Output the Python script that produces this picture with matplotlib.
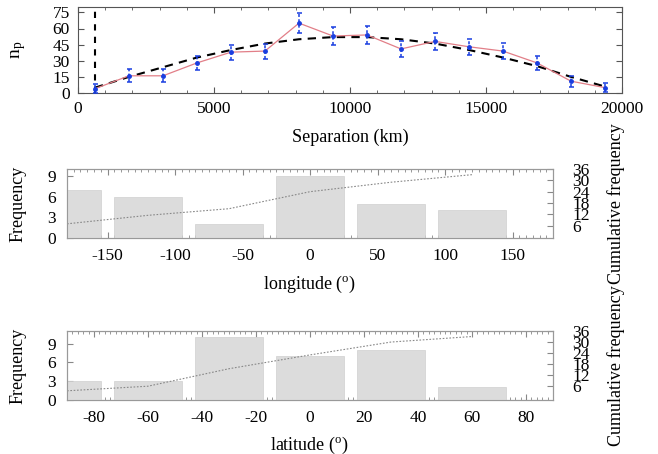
import matplotlib
matplotlib.use("Agg")
import matplotlib.pyplot as plt
from matplotlib.ticker import MultipleLocator

plt.rcParams['font.family'] = ['Liberation Serif', 'DejaVu Serif']
plt.rcParams['mathtext.fontset'] = 'stix'
plt.rcParams['axes.unicode_minus'] = False

# top panel: pair counts vs separation
sep_km = [625, 1875, 3125, 4375, 5625, 6875, 8125, 9375, 10625, 11875,
          13125, 14375, 15625, 16875, 18125, 19375]
n_p = [4, 16, 16, 28, 38, 39, 65, 53, 54, 41, 48, 43, 39, 28, 11, 5]
n_p_err = [4, 6, 6, 6.5, 7, 7, 9.5, 8, 8, 7.5, 8, 7.5, 7.5, 6.5, 5, 4]
n_fit = [5, 15, 24, 33, 40, 46, 50, 52, 52, 50, 46, 40, 33, 25, 15, 6]
min_sep = 625

# middle panel: longitude histogram
lon_centres = [-180, -120, -60, 0, 60, 120]
lon_counts = [7, 6, 2, 9, 5, 4]
lon_cum = [7, 11.5, 15, 24, 29, 33]

# bottom panel: latitude histogram
lat_centres = [-90, -60, -30, 0, 30, 60]
lat_counts = [3, 3, 10, 7, 8, 2]
lat_cum = [3.5, 6, 15.5, 23, 30, 33]

cum_ticks = [6, 12, 18, 24, 30, 36]

W, H = 658, 454
fig = plt.figure(figsize=(W / 100, H / 100), dpi=100)


def box(l, t, r, b):
    return [l / W, 1 - b / H, (r - l) / W, (b - t) / H]


# ---- top panel
ax = fig.add_axes(box(78, 7, 622, 93))
ax.plot(sep_km, n_fit, color='black', lw=1.5, ls=(0, (4, 3)), zorder=2)
ax.axvline(min_sep, color='black', lw=1.5, ls=(0, (3, 3)), zorder=2)
ax.plot(sep_km, n_p, color='#e27f88', lw=0.9, zorder=3)
eb = ax.errorbar(sep_km, n_p, yerr=n_p_err, fmt='o', ms=2.5, color='#1a3ee0',
                 elinewidth=1.1, capsize=1.8, capthick=1.1, zorder=4)
eb[2][0].set_linestyle((0, (2, 1.5)))
ax.set_xlim(0, 20000)
ax.set_ylim(0, 80)
ax.xaxis.set_major_locator(MultipleLocator(5000))
ax.xaxis.set_minor_locator(MultipleLocator(1000))
ax.yaxis.set_major_locator(MultipleLocator(15))
ax.tick_params(which='both', direction='in', top=True, right=True,
               labelsize=12.5, pad=6, color='#555555')
ax.tick_params(which='major', length=4)
ax.tick_params(which='minor', length=2)
for s in ax.spines.values():
    s.set_color('#555555')
ax.set_xlabel('Separation (km)', fontsize=13)
ax.xaxis.set_label_coords(0.5, -0.41)
ax.set_ylabel('n$_\\mathregular{p}$', fontsize=14)
ax.yaxis.set_label_coords(-0.092, 0.5)


def hist_panel(rect, centres, counts, cum, width, xlim, ylim, cum_lim,
               major, minor, label, label_y):
    a = fig.add_axes(rect)
    a.bar(centres, counts, width=width, color='#dcdcdc', edgecolor='#cfcfcf',
          lw=0.5, zorder=3)
    a.set_xlim(*xlim)
    a.set_ylim(*ylim)
    a.xaxis.set_major_locator(MultipleLocator(major))
    a.xaxis.set_minor_locator(MultipleLocator(minor))
    a.yaxis.set_major_locator(MultipleLocator(3))
    a.tick_params(which='both', direction='in', top=True, labelsize=12.5,
                  pad=7, color='#888888')
    a.tick_params(which='major', length=4)
    a.tick_params(which='minor', length=2)
    a.tick_params(axis='y', pad=8)
    for s in a.spines.values():
        s.set_color('#999999')
    a.set_xlabel(label, fontsize=13)
    a.xaxis.set_label_coords(0.5, label_y)
    a.set_ylabel('Frequency', fontsize=13)
    a.yaxis.set_label_coords(-0.084, 0.5)

    a2 = a.twinx()
    a2.plot(centres, cum, color='#888888', lw=0.8, ls=(0, (1.5, 1.5)))
    a2.set_ylim(*cum_lim)
    a2.set_yticks(cum_ticks)
    a2.tick_params(direction='in', length=4, color='#888888', labelsize=12.5,
                   pad=14)
    for s in a2.spines.values():
        s.set_color('#999999')
    a2.set_ylabel('Cumulative frequency', fontsize=13)
    a2.yaxis.set_label_coords(1.112, 0.5)
    a2.set_zorder(a.get_zorder() + 1)
    a2.patch.set_visible(False)
    return a


hist_panel(box(67, 169, 553, 238), lon_centres, lon_counts, lon_cum, 50,
           (-180, 180), (0, 10), (-0.5, 35.5), 50, 5,
           'longitude ($^\\mathregular{o}$)', -0.515)
hist_panel(box(67, 331, 553, 400), lat_centres, lat_counts, lat_cum, 25,
           (-90, 90), (0, 11), (-1.5, 34.2), 20, 2,
           'latitude ($^\\mathregular{o}$)', -0.5)

fig.savefig('out.png', dpi=100)
